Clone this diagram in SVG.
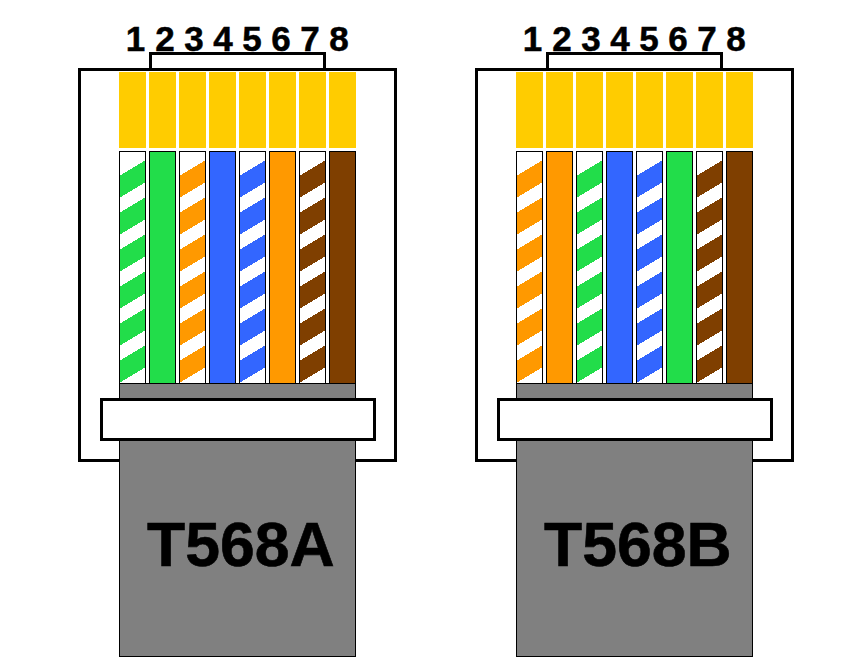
<svg xmlns="http://www.w3.org/2000/svg" width="860" height="671" viewBox="0 0 860 671">
<style>
text{font-family:"Liberation Sans",Arial,sans-serif;font-weight:bold;fill:#000;stroke:#000}
.num{font-size:35px;text-anchor:middle;stroke-width:.5}
.title{font-size:62.5px;stroke-width:.6}
.body{fill:#fff;stroke:#000;stroke-width:3}
.tab{fill:none;stroke:#000;stroke-width:3}
.gold{fill:#fc0}
.wire{stroke:#000;stroke-width:1}
.base{fill:#fff;stroke:#000;stroke-width:1}
.frame{fill:none;stroke:#000;stroke-width:1}
.stripe{shape-rendering:crispEdges}
.g{fill:#22dd4a}.o{fill:#f90}.b{fill:#36f}.n{fill:#7f3f00}
.boot{fill:#808080;stroke:#000;stroke-width:1}
.bar{fill:#fff;stroke:#000;stroke-width:3}
</style>
<defs>
<clipPath id="wireClip"><rect x="0" y="151" width="27" height="233"/></clipPath>
<g id="stripes" clip-path="url(#wireClip)" class="stripe">
<polygon points="0,176 27,160 27,182 0,198"/>
<polygon points="0,213 27,197 27,219 0,235"/>
<polygon points="0,250 27,234 27,256 0,272"/>
<polygon points="0,287 27,271 27,293 0,309"/>
<polygon points="0,324 27,308 27,330 0,346"/>
<polygon points="0,361 27,345 27,367 0,383"/>
</g>
<rect id="frame" class="frame" x="0.5" y="151.5" width="26" height="232"/>
<g id="pins">
<rect class="gold" x="119" y="72" width="27" height="76"/>
<rect class="gold" x="149" y="72" width="27" height="76"/>
<rect class="gold" x="179" y="72" width="27" height="76"/>
<rect class="gold" x="209" y="72" width="27" height="76"/>
<rect class="gold" x="239" y="72" width="27" height="76"/>
<rect class="gold" x="269" y="72" width="27" height="76"/>
<rect class="gold" x="299" y="72" width="27" height="76"/>
<rect class="gold" x="329" y="72" width="27" height="76"/>
</g>
<g id="numbers">
<text class="num" x="135.5" y="51">1</text>
<text class="num" x="165" y="51">2</text>
<text class="num" x="194" y="51">3</text>
<text class="num" x="223" y="51">4</text>
<text class="num" x="252" y="51">5</text>
<text class="num" x="281" y="51">6</text>
<text class="num" x="310" y="51">7</text>
<text class="num" x="339" y="51">8</text>
</g>
</defs>

<g id="t568a">
<use href="#numbers"/>
<rect class="body" x="79.5" y="69.5" width="316" height="391"/>
<path class="tab" d="M150.5 69V53.5H324.5V69"/>
<use href="#pins"/>
<g id="a-w1" transform="translate(119 0)"><rect class="base" x="0.5" y="151.5" width="26" height="232"/><use href="#stripes" class="g"/><use href="#frame"/></g>
<g id="a-w2" transform="translate(149 0)"><rect class="wire g" x="0.5" y="151.5" width="26" height="232"/></g>
<g id="a-w3" transform="translate(179 0)"><rect class="base" x="0.5" y="151.5" width="26" height="232"/><use href="#stripes" class="o"/><use href="#frame"/></g>
<g id="a-w4" transform="translate(209 0)"><rect class="wire b" x="0.5" y="151.5" width="26" height="232"/></g>
<g id="a-w5" transform="translate(239 0)"><rect class="base" x="0.5" y="151.5" width="26" height="232"/><use href="#stripes" class="b"/><use href="#frame"/></g>
<g id="a-w6" transform="translate(269 0)"><rect class="wire o" x="0.5" y="151.5" width="26" height="232"/></g>
<g id="a-w7" transform="translate(299 0)"><rect class="base" x="0.5" y="151.5" width="26" height="232"/><use href="#stripes" class="n"/><use href="#frame"/></g>
<g id="a-w8" transform="translate(329 0)"><rect class="wire n" x="0.5" y="151.5" width="26" height="232"/></g>
<rect class="boot" x="119.5" y="383.5" width="236" height="273"/>
<rect class="bar" x="101.5" y="399.5" width="273" height="40"/>
<text class="title" x="147" y="566">T568A</text>
</g>

<g id="t568b" transform="translate(397 0)">
<use href="#numbers"/>
<rect class="body" x="79.5" y="69.5" width="316" height="391"/>
<path class="tab" d="M150.5 69V53.5H324.5V69"/>
<use href="#pins"/>
<g id="b-w1" transform="translate(119 0)"><rect class="base" x="0.5" y="151.5" width="26" height="232"/><use href="#stripes" class="o"/><use href="#frame"/></g>
<g id="b-w2" transform="translate(149 0)"><rect class="wire o" x="0.5" y="151.5" width="26" height="232"/></g>
<g id="b-w3" transform="translate(179 0)"><rect class="base" x="0.5" y="151.5" width="26" height="232"/><use href="#stripes" class="g"/><use href="#frame"/></g>
<g id="b-w4" transform="translate(209 0)"><rect class="wire b" x="0.5" y="151.5" width="26" height="232"/></g>
<g id="b-w5" transform="translate(239 0)"><rect class="base" x="0.5" y="151.5" width="26" height="232"/><use href="#stripes" class="b"/><use href="#frame"/></g>
<g id="b-w6" transform="translate(269 0)"><rect class="wire g" x="0.5" y="151.5" width="26" height="232"/></g>
<g id="b-w7" transform="translate(299 0)"><rect class="base" x="0.5" y="151.5" width="26" height="232"/><use href="#stripes" class="n"/><use href="#frame"/></g>
<g id="b-w8" transform="translate(329 0)"><rect class="wire n" x="0.5" y="151.5" width="26" height="232"/></g>
<rect class="boot" x="119.5" y="383.5" width="236" height="273"/>
<rect class="bar" x="101.5" y="399.5" width="273" height="40"/>
<text class="title" x="147" y="566">T568B</text>
</g>
</svg>
